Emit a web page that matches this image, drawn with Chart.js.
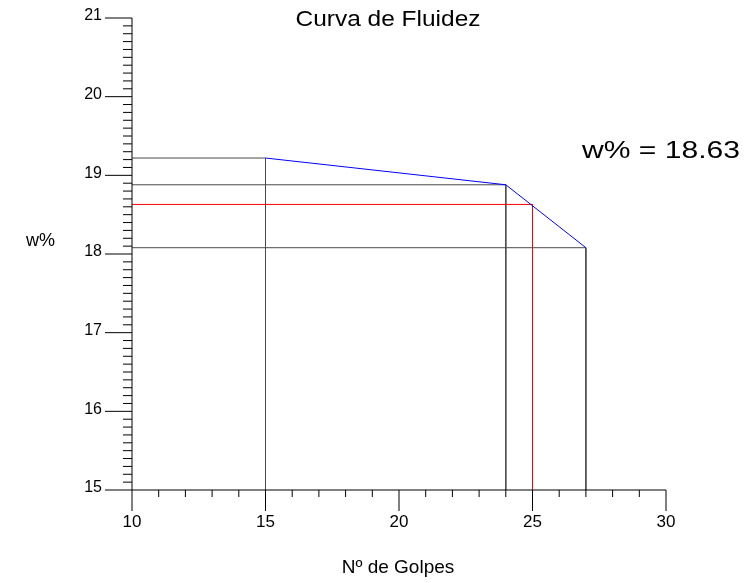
<!DOCTYPE html>
<html>
<head>
<meta charset="utf-8">
<script src="https://cdn.jsdelivr.net/npm/chart.js@4/dist/chart.umd.min.js"></script>
<style>
  html, body { margin: 0; padding: 0; background: #fff; }
  #wrap { width: 747px; height: 583px; }
</style>
</head>
<body>
<div id="wrap"><canvas id="fluidez" width="747" height="583"></canvas></div>
<script>
// datos
var golpes = [15, 24, 27];
var humedad = [19.22, 18.88, 18.08];
var golpesRef = 25;
var humedadRef = 18.63;
var xTicks = [10, 15, 20, 25, 30];
var yTicks = [15, 16, 17, 18, 19, 20, 21];

var FONT = '"Liberation Sans", Arial, sans-serif';

function pts(xs, ys) {
    return xs.map(function (x, i) { return { x: x, y: ys[i] }; });
}

// lineas guia: desde el eje y hasta el punto y bajando al eje x
var datasets = [{
    data: pts(golpes, humedad),
    borderColor: '#0000ff',
    borderWidth: 1,
    pointRadius: 0,
    order: 0
}];
golpes.forEach(function (g, i) {
    datasets.push({
        data: pts([10, g, g], [humedad[i], humedad[i], 15]),
        borderColor: '#4a4a4a',
        borderWidth: 1,
        pointRadius: 0,
        order: 2
    });
});
datasets.push({
    data: pts([10, golpesRef, golpesRef], [humedadRef, humedadRef, 15]),
    borderColor: '#ff0000',
    borderWidth: 1,
    pointRadius: 0,
    order: 1
});

function stretchText(ctx, text, x, y, size, width, align) {
    ctx.save();
    ctx.font = size + 'px ' + FONT;
    ctx.textBaseline = 'middle';
    ctx.textAlign = 'left';
    var w = ctx.measureText(text).width;
    var sx = width ? width / w : 1;
    var left = align === 'center' ? x - w * sx / 2 : (align === 'right' ? x - w * sx : x);
    ctx.translate(left, y);
    ctx.scale(sx, 1);
    ctx.fillText(text, 0, 0);
    ctx.restore();
}

var axesPlugin = {
    id: 'ejes',
    afterDraw: function (chart) {
        var ctx = chart.ctx;
        var xs = chart.scales.x, ys = chart.scales.y;
        var x0 = xs.getPixelForValue(10), x1 = xs.getPixelForValue(30);
        var y0 = ys.getPixelForValue(15), y1 = ys.getPixelForValue(21);
        ctx.save();
        ctx.strokeStyle = '#000';
        ctx.lineWidth = 1;
        ctx.beginPath();
        ctx.moveTo(x0, y1); ctx.lineTo(x0, y0);
        ctx.moveTo(x0, y0); ctx.lineTo(x1, y0);
        // ticks eje y
        for (var i = 0; i <= 60; i++) {
            var v = 15 + i / 10;
            var py = ys.getPixelForValue(v);
            ctx.moveTo(x0 - (i % 10 === 0 ? 27 : 9), py);
            ctx.lineTo(x0, py);
        }
        // ticks eje x
        for (var j = 10; j <= 30; j++) {
            var px = xs.getPixelForValue(j);
            ctx.moveTo(px, y0);
            ctx.lineTo(px, y0 + (j % 5 === 0 ? 21 : 7));
        }
        ctx.stroke();

        ctx.fillStyle = '#000';
        yTicks.forEach(function (t) {
            stretchText(ctx, String(t), 102, ys.getPixelForValue(t) - 2, 16, 0, 'right');
        });
        xTicks.forEach(function (t) {
            stretchText(ctx, String(t), xs.getPixelForValue(t), 522, 17, 0, 'center');
        });
        stretchText(ctx, 'Curva de Fluidez', 388, 20, 22, 185, 'center');
        stretchText(ctx, 'w% = ' + humedadRef.toFixed(2), 582, 151, 24, 158, 'left');
        stretchText(ctx, 'w%', 26, 241, 18, 0, 'left');
        stretchText(ctx, 'Nº de Golpes', 398, 568, 19, 0, 'center');
        ctx.restore();
    }
};

var chart = new Chart(document.getElementById('fluidez').getContext('2d'), {
    type: 'line',
    data: { datasets: datasets },
    options: {
        responsive: false,
        animation: false,
        layout: { padding: { left: 132, right: 81, top: 18, bottom: 93 } },
        scales: {
            x: { type: 'linear', min: 10, max: 30, display: false },
            y: { type: 'linear', min: 15, max: 21, display: false }
        },
        plugins: {
            legend: { display: false },
            tooltip: { enabled: false },
            title: { display: false }
        }
    },
    plugins: [axesPlugin]
});
</script>
</body>
</html>
